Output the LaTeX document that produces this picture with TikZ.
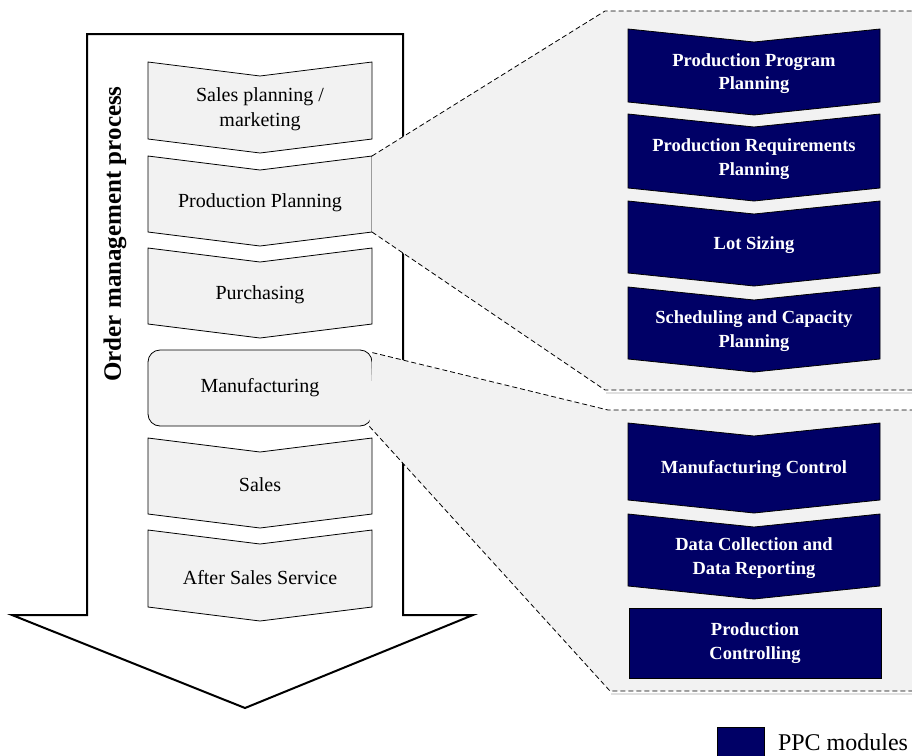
\documentclass[tikz,border=0pt]{standalone}
\usepackage{fontspec}
\setmainfont{Liberation Serif}
\usetikzlibrary{positioning}

\definecolor{ppcblue}{RGB}{0,0,102}
\definecolor{panelgrey}{RGB}{242,242,242}

\begin{document}
\begin{tikzpicture}[x=1pt,y=-1pt,line join=miter]
% Styles
\tikzstyle{proc box}=[draw=black, fill=panelgrey, line width=0.8pt]
\tikzstyle{proc text}=[font=\fontsize{20}{25}\selectfont, align=center]
\tikzstyle{ppc box}=[draw=black, fill=ppcblue, line width=0.8pt]
\tikzstyle{ppc text}=[font=\bfseries\fontsize{18.5}{23.5}\selectfont, text=white, align=center]
\tikzstyle{zoom edge}=[line width=0.8pt, dash pattern=on 5pt off 3pt]
\tikzstyle{zoom shadow}=[black!12, line width=2.5pt]

\useasboundingbox (0,0) rectangle (912,755);

% the big arrow
\draw[line width=2pt, fill=white] (87,34) -- (403,34) -- (403,615) -- (473,615) -- (245,708) -- (12,615) -- (87,615) -- cycle;
\node[rotate=90, font=\bfseries\fontsize{25}{29}\selectfont] (omp) at (115,234) {Order management process};

% steps of the process
\foreach \yt/\yb/\nm/\txt in {62/139/spm/{Sales planning /\\marketing}, 156/232/pp/Production Planning, 248/324/pur/Purchasing, 438/514/sal/Sales, 530/607/ass/After Sales Service} {
\draw[proc box] (148,\yt) -- (260,\yt+14) -- (372,\yt) -- (372,\yb) -- (260,\yb+14) -- (148,\yb) -- cycle;
\coordinate (\nm-ne) at (372,\yt);
\coordinate (\nm-se) at (372,\yb);
\node[proc text] (\nm) at (260,{(\yt+\yb)/2+9}) {\txt};
}
\node[proc box, proc text, rounded corners=12pt, minimum width=224, minimum height=76, inner sep=0] (man) at (260,388) {Manufacturing};

% zoom panels
\fill[panelgrey] (pp-ne) -- (605,11) -- (913,11) -- (913,390) -- (605,390) -- (pp-se) -- cycle;
\draw[zoom shadow] (606,393) -- (913,393);
\draw[zoom edge] (pp-ne) -- (605,11) -- (913,11);
\draw[zoom edge] (pp-se) -- (605,390) -- (913,390);

\fill[panelgrey] ([yshift=-3pt]man.north east) -- (608,410) -- (913,410) -- (913,691) -- (610,691) -- ([xshift=-3pt]man.south east) -- cycle;
\draw[zoom shadow] (611,694) -- (913,694);
\draw[zoom edge] ([yshift=-3pt]man.north east) -- (608,410) -- (913,410);
\draw[zoom edge] ([xshift=-3pt]man.south east) -- (610,691) -- (913,691);

% PPC modules
\foreach \yt/\yb/\nm/\txt in {29/102/ppp/{Production Program\\Planning}, 114/188/prp/{Production Requirements\\Planning}, 201/273/ls/Lot Sizing, 287/359/scp/{Scheduling and Capacity\\Planning}, 423/500/mc/Manufacturing Control, 514/586/dcr/{Data Collection and\\Data Reporting}} {
\draw[ppc box] (628,\yt) -- (754,\yt+13) -- (880,\yt) -- (880,\yb) -- (754,\yb+13) -- (628,\yb) -- cycle;
\node[ppc text] (\nm) at (754,{(\yt+\yb)/2+8}) {\txt};
}
\node[ppc box, ppc text, minimum width=252, minimum height=70, inner sep=0] (pc) at (755,643) {Production\\Controlling};

% legend
\node[ppc box, minimum width=47, minimum height=29, inner sep=0, anchor=north west] (legend) at (717,727) {};
\node[right=13pt of legend, inner sep=0, font=\fontsize{24}{28}\selectfont] (legendtext) {PPC modules};

\end{tikzpicture}
\end{document}
